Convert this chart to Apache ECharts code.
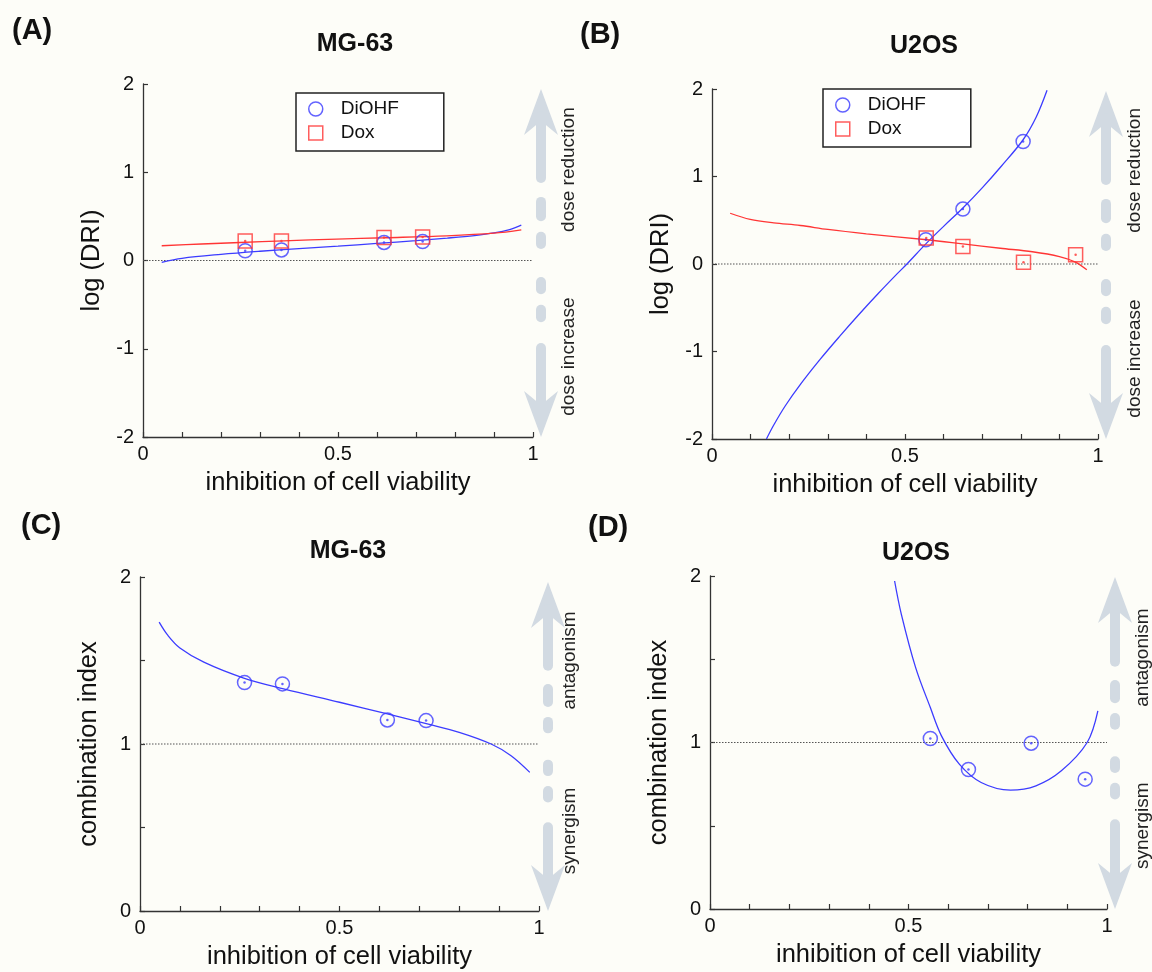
<!DOCTYPE html>
<html>
<head>
<meta charset="utf-8">
<script src="https://cdn.jsdelivr.net/npm/echarts@6/dist/echarts.min.js"></script>
<style>html,body{margin:0;padding:0;background:#fdfdf8;}#c{width:1152px;height:972px;}</style>
</head>
<body>
<div id="c"></div>
<script>
// ---------- data ----------
const xTickLabels = ['0', '0.5', '1'];
const driTickValues = [-2, -1, 0, 1, 2];
const ciTickLabels = ['0', '1', '2'];

// (A) MG-63 log(DRI)
const mg63DiohfPts = [[0.262, 0.11], [0.355, 0.12], [0.618, 0.205], [0.717, 0.215]];
const mg63DoxPts = [[0.262, 0.22], [0.355, 0.22], [0.618, 0.26], [0.717, 0.265]];
const mg63DiohfFit = [[0.048, -0.02], [0.1, 0.025], [0.2, 0.07], [0.3, 0.105], [0.4, 0.135], [0.5, 0.163], [0.6, 0.193], [0.7, 0.225], [0.78, 0.254], [0.85, 0.283], [0.9, 0.312], [0.94, 0.35], [0.97, 0.40]];
const mg63DoxFit = [[0.048, 0.167], [0.15, 0.187], [0.249, 0.204], [0.36, 0.222], [0.497, 0.243], [0.62, 0.258], [0.779, 0.28], [0.9, 0.31], [0.97, 0.348]];

// (B) U2OS log(DRI)
const u2osDiohfPts = [[0.554, 0.277], [0.650, 0.628], [0.806, 1.40]];
const u2osDoxPts = [[0.555, 0.296], [0.650, 0.20], [0.807, 0.02], [0.942, 0.105]];
const u2osDiohfFit = [[0.141, -2], [0.16, -1.84], [0.19, -1.62], [0.23, -1.37], [0.28, -1.09], [0.33, -0.83], [0.38, -0.58], [0.43, -0.34], [0.48, -0.11], [0.505, 0], [0.554, 0.23], [0.6, 0.43], [0.65, 0.64], [0.7, 0.87], [0.75, 1.12], [0.806, 1.42], [0.84, 1.68], [0.868, 1.985]];
const u2osDoxFit = [[0.047, 0.58], [0.099, 0.51], [0.16, 0.47], [0.229, 0.44], [0.3, 0.395], [0.40, 0.345], [0.557, 0.277], [0.65, 0.23], [0.747, 0.18], [0.83, 0.14], [0.9, 0.085], [0.94, 0.025], [0.971, -0.066]];

// (C) MG-63 combination index
const mg63CiPts = [[0.262, 1.368], [0.357, 1.36], [0.62, 1.144], [0.717, 1.14]];
const mg63CiFit = [[0.048, 1.73], [0.07, 1.65], [0.1, 1.575], [0.16, 1.49], [0.26, 1.395], [0.36, 1.33], [0.5, 1.25], [0.62, 1.18], [0.72, 1.12], [0.8, 1.07], [0.88, 1.0], [0.93, 0.93], [0.977, 0.83]];

// (D) U2OS combination index
const u2osCiPts = [[0.555, 1.024], [0.651, 0.838], [0.809, 0.996], [0.945, 0.78]];
const u2osCiFit = [[0.465, 1.97], [0.482, 1.77], [0.518, 1.45], [0.555, 1.21], [0.583, 1.04], [0.628, 0.87], [0.683, 0.76], [0.757, 0.714], [0.821, 0.74], [0.885, 0.83], [0.95, 1.0], [0.977, 1.19]];

const driRefLine = [[0, 0], [1, 0]];
const ciRefLine = [[0, 1], [1, 1]];

const panelLetters = ['(A)', '(B)', '(C)', '(D)'];
const panelTitles = ['MG-63', 'U2OS', 'MG-63', 'U2OS'];
const sideTexts = [['dose reduction', 'dose increase'], ['dose reduction', 'dose increase'], ['antagonism', 'synergism'], ['antagonism', 'synergism']];
const sideTextY = [[1.03, -1.09], [1.07, -1.08], [1.5, 0.48], [1.51, 0.5]];

// ---------- style ----------
const FONT = '"Liberation Sans", Arial, Helvetica, sans-serif';
const BLUE = '#3c3cff';
const RED = '#ff3535';
const AX = '#333';
const ARROW = '#d2dae2';

const grids = [
  { left: 143, top: 84, width: 390, height: 353 },
  { left: 712, top: 89, width: 386, height: 350 },
  { left: 140, top: 577, width: 399, height: 334 },
  { left: 710, top: 576, width: 397, height: 333 }
];
const yMin = [-2, -2, 0, 0], yMax = [2, 2, 2, 2];

function near(a, b) { return Math.abs(a - b) < 1e-6; }

function xAxisCfg(i) {
  return {
    type: 'value', gridIndex: i, min: 0, max: 1, interval: 0.1,
    name: 'inhibition of cell viability', nameLocation: 'middle', nameGap: 33,
    nameTextStyle: { fontSize: 25.5, color: '#111', fontFamily: FONT },
    axisLine: { show: true, onZero: false, lineStyle: { color: AX, width: 1.3 } },
    axisTick: { show: true, inside: true, length: 5, lineStyle: { color: AX, width: 1.2 } },
    splitLine: { show: false },
    axisLabel: {
      fontSize: 20, color: '#111', margin: 7, fontFamily: FONT,
      formatter: v => near(v, 0) ? xTickLabels[0] : near(v, 0.5) ? xTickLabels[1] : near(v, 1) ? xTickLabels[2] : ''
    }
  };
}
function yAxisCfg(i) {
  const dri = i < 2;
  return {
    type: 'value', gridIndex: i, min: yMin[i], max: yMax[i], interval: dri ? 1 : 0.5,
    name: dri ? 'log (DRI)' : 'combination index', nameLocation: 'middle', nameGap: 38,
    nameTextStyle: { fontSize: 25.5, color: '#111', fontFamily: FONT },
    axisLine: { show: true, onZero: false, lineStyle: { color: AX, width: 1.3 } },
    axisTick: { show: true, inside: true, length: 5, lineStyle: { color: AX, width: 1.2 } },
    splitLine: { show: false },
    axisLabel: {
      fontSize: 20, color: '#111', margin: 9, fontFamily: FONT,
      formatter: v => {
        if (dri) { const k = driTickValues.findIndex(t => near(t, v)); return k >= 0 ? String(driTickValues[k]) : ''; }
        const k = [0, 1, 2].findIndex(t => near(t, v)); return k >= 0 ? ciTickLabels[k] : '';
      }
    }
  };
}

function scatter(name, gi, data, color, symbol, size) {
  return {
    name, type: 'scatter', xAxisIndex: gi, yAxisIndex: gi, data, symbol, symbolSize: size,
    itemStyle: { color: 'rgba(0,0,0,0)', borderColor: color, borderWidth: 1.5 }, z: 5, silent: true
  };
}
function dots(gi, data, color) {
  return { type: 'scatter', xAxisIndex: gi, yAxisIndex: gi, data, symbol: 'circle', symbolSize: 2.5, itemStyle: { color }, z: 6, silent: true };
}
function fit(name, gi, data, color) {
  return {
    name, type: 'line', xAxisIndex: gi, yAxisIndex: gi, data, smooth: 0.35, showSymbol: false, symbol: 'none',
    lineStyle: { color, width: 1.3 }, z: 4, silent: true, clip: true
  };
}
function ref(gi, data) {
  return { type: 'line', xAxisIndex: gi, yAxisIndex: gi, data, symbol: 'none', lineStyle: { color: '#555', width: 1.1, type: [1.5, 1.5] }, z: 2, silent: true };
}

const titleTop = [[12, 16], [580, 20], [21, 511], [588, 513]];
const titleCenters = [[355, 32], [924, 34], [348, 539], [916, 541]];

const titles = [];
panelLetters.forEach((t, i) => titles.push({ text: t, left: titleTop[i][0], top: titleTop[i][1], padding: 0, textStyle: { fontSize: 29, fontWeight: 'bold', color: '#111', fontFamily: FONT } }));
panelTitles.forEach((t, i) => titles.push({ text: t, left: titleCenters[i][0], top: titleCenters[i][1], textAlign: 'center', padding: 0, textStyle: { fontSize: 25, fontWeight: 'bold', color: '#111', fontFamily: FONT } }));

function legendCfg(left, top) {
  return {
    orient: 'vertical', left, top, selectedMode: false,
    borderColor: '#222', borderWidth: 1.5, borderRadius: 0, backgroundColor: '#fff',
    padding: [6, 45, 8, 12], itemWidth: 14, itemHeight: 14, itemGap: 4,
    textStyle: { fontSize: 19, color: '#111', fontFamily: FONT, padding: [0, 0, 0, 13], lineHeight: 20 },
    data: [
      { name: 'DiOHF', icon: 'circle', itemStyle: { color: 'rgba(0,0,0,0)', borderColor: BLUE, borderWidth: 1.5 } },
      { name: 'Dox', icon: 'rect', itemStyle: { color: 'rgba(0,0,0,0)', borderColor: RED, borderWidth: 1.5 } }
    ]
  };
}

const option = {
  backgroundColor: '#fdfdf8',
  animation: false,
  textStyle: { fontFamily: FONT },
  title: titles,
  legend: [legendCfg(296, 93), legendCfg(823, 89)],
  grid: grids,
  xAxis: [0, 1, 2, 3].map(xAxisCfg),
  yAxis: [0, 1, 2, 3].map(yAxisCfg),
  series: [
    ref(0, driRefLine),
    fit('DiOHF fit A', 0, mg63DiohfFit, BLUE),
    fit('Dox fit A', 0, mg63DoxFit, RED),
    scatter('DiOHF', 0, mg63DiohfPts, BLUE, 'circle', 14),
    scatter('Dox', 0, mg63DoxPts, RED, 'rect', 14),
    dots(0, mg63DiohfPts, BLUE), dots(0, mg63DoxPts, RED),

    ref(1, driRefLine),
    fit('DiOHF fit B', 1, u2osDiohfFit, BLUE),
    fit('Dox fit B', 1, u2osDoxFit, RED),
    scatter('DiOHF', 1, u2osDiohfPts, BLUE, 'circle', 14),
    scatter('Dox', 1, u2osDoxPts, RED, 'rect', 14),
    dots(1, u2osDiohfPts, BLUE), dots(1, u2osDoxPts, RED),

    ref(2, ciRefLine),
    fit('CI fit C', 2, mg63CiFit, BLUE),
    scatter('CI C', 2, mg63CiPts, BLUE, 'circle', 14),
    dots(2, mg63CiPts, BLUE),

    ref(3, ciRefLine),
    fit('CI fit D', 3, u2osCiFit, BLUE),
    scatter('CI D', 3, u2osCiPts, BLUE, 'circle', 14),
    dots(3, u2osCiPts, BLUE)
  ]
};

const chart = echarts.init(document.getElementById('c'), null, { renderer: 'canvas' });
chart.setOption(option);

// decorative arrows + side annotations positioned from the axes
const arrowOffset = [8, 8, 9, 8];
const arrowTopPad = [5, 2, 5, 1];
const textOffset = [36, 37, 31, 36];
const graphics = [];
for (let gi = 0; gi < 4; gi++) {
  const pTop = chart.convertToPixel({ gridIndex: gi }, [1, yMax[gi]]);
  const pBot = chart.convertToPixel({ gridIndex: gi }, [1, yMin[gi]]);
  const cx = pTop[0] + arrowOffset[gi];
  const y0 = pTop[1] + arrowTopPad[gi];
  const y1 = pBot[1];
  const L = y1 - y0;
  const st = { fill: ARROW };
  graphics.push({ type: 'polygon', silent: true, shape: { points: [[cx, y0], [cx + 17, y0 + 46], [cx, y0 + 32], [cx - 17, y0 + 46]] }, style: st });
  graphics.push({ type: 'rect', silent: true, shape: { x: cx - 5, y: y0 + 22, width: 10, height: 0.27 * L - 22, r: 5 }, style: st });
  [[0.31, 0.38], [0.41, 0.46], [0.54, 0.59], [0.62, 0.67]].forEach(d => {
    graphics.push({ type: 'rect', silent: true, shape: { x: cx - 5, y: y0 + d[0] * L, width: 10, height: (d[1] - d[0]) * L, r: 5 }, style: st });
  });
  graphics.push({ type: 'rect', silent: true, shape: { x: cx - 5, y: y0 + 0.73 * L, width: 10, height: 0.27 * L - 22, r: 5 }, style: st });
  graphics.push({ type: 'polygon', silent: true, shape: { points: [[cx, y1], [cx + 17, y1 - 46], [cx, y1 - 32], [cx - 17, y1 - 46]] }, style: st });

  sideTexts[gi].forEach((t, k) => {
    const p = chart.convertToPixel({ gridIndex: gi }, [1, sideTextY[gi][k]]);
    graphics.push({
      type: 'text', silent: true, x: pTop[0] + textOffset[gi], y: p[1], rotation: Math.PI / 2,
      style: { text: t, fontSize: 19, fontFamily: FONT, fill: '#222', align: 'center', verticalAlign: 'middle' }
    });
  });
}
chart.setOption({ graphic: graphics });
</script>
</body>
</html>
